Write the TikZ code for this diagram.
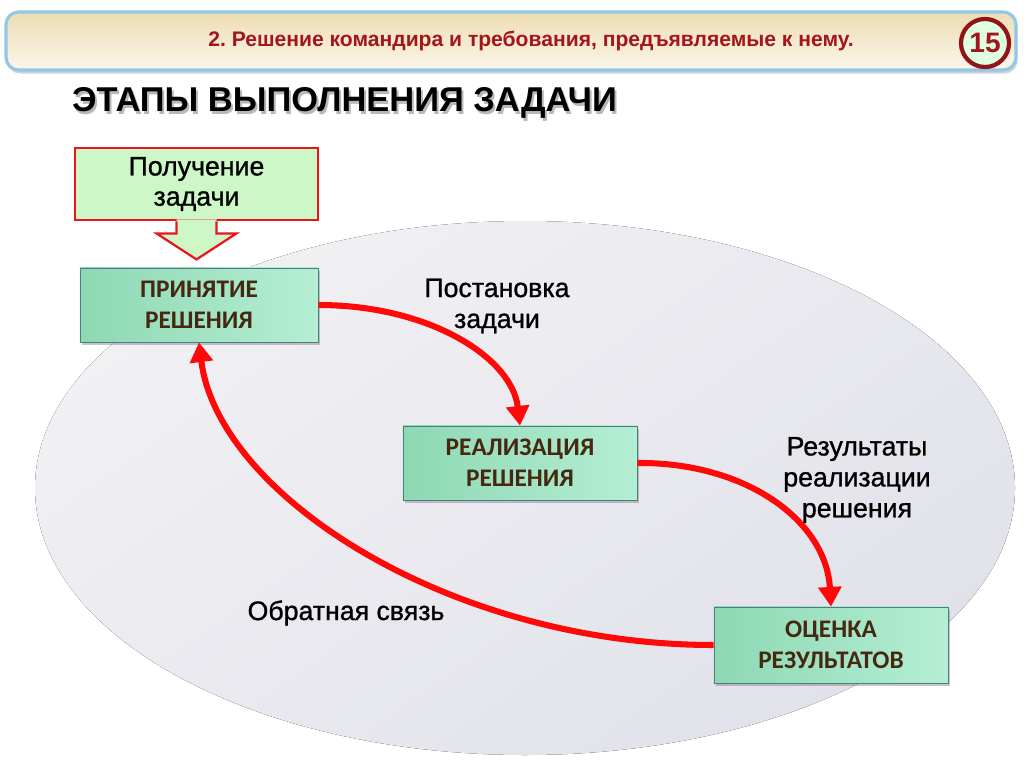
\documentclass[tikz,border=0pt]{standalone}
\usepackage{fontspec}
\setmainfont{Liberation Sans}
\newfontfamily\boxfont{Carlito}
\newfontfamily\labelfont{Liberation Sans}[FakeBold=1]
\usetikzlibrary{arrows.meta,shadows}
\definecolor{hdrred}{HTML}{A3161B}
\definecolor{hdrblue}{HTML}{8FC8E8}
\definecolor{hdrtop}{HTML}{EEDDB4}
\definecolor{hdrbot}{HTML}{FBF6EA}
\definecolor{boxtext}{HTML}{45280F}
\definecolor{boxleft}{HTML}{8ED8B4}
\definecolor{boxright}{HTML}{B4EED4}
\definecolor{flowred}{HTML}{FF0808}
\definecolor{taskgreen}{HTML}{CDF7C6}
\definecolor{taskred}{HTML}{E8161B}
\definecolor{ovallight}{HTML}{F1F1F4}
\definecolor{ovaldark}{HTML}{E1E1EA}
\frenchspacing

\begin{document}
\begin{tikzpicture}[x=0.025cm,y=-0.025cm,
  stage/.style={draw=gray!60!teal,line width=0.5pt,left color=boxleft,right color=boxright,
    drop shadow={opacity=0.45,shadow xshift=1.5pt,shadow yshift=-2pt},
    minimum height=1.85cm,align=center,text=boxtext,font=\boxfont\bfseries\fontsize{18}{22}\selectfont},
  flow/.style={draw=flowred,line width=4.3pt,-{Triangle[length=14pt,width=16pt]}},
  lbl/.style={align=center,font=\labelfont\fontsize{19}{22}\selectfont}]
  \useasboundingbox (0,0) rectangle (1024,767);
  % header
  \draw[draw=hdrblue,line width=2.2pt,rounded corners=9pt,top color=hdrtop,bottom color=hdrbot,
    drop shadow={opacity=0.35,shadow xshift=1pt,shadow yshift=-2.5pt}] (6,12) rectangle (1016,70);
  \node[text=hdrred,font=\bfseries\fontsize{15}{18}\selectfont] (hdrtext) at (531,41) {2. Решение командира и требования, предъявляемые к нему.};
  \node[circle,draw=hdrred!90!black,line width=3pt,fill=green!12,minimum size=1.2cm,inner sep=0pt,text=hdrred,
    font=\bfseries\fontsize{20}{24}\selectfont] (pageno) at (985,43) {15};
  % title
  \node[text=black!28,font=\bfseries\fontsize{24.5}{28}\selectfont] (titleshade) at (346.5,105.5) {ЭТАПЫ ВЫПОЛНЕНИЯ ЗАДАЧИ};
  \node[font=\bfseries\fontsize{24.5}{28}\selectfont] (title) at (344.5,103) {ЭТАПЫ ВЫПОЛНЕНИЯ ЗАДАЧИ};
  % oval
  \fill[top color=ovallight,bottom color=ovaldark,shading angle=35] (525,488) ellipse [x radius=490,y radius=267];
  % stages
  \node[draw=taskred,line width=2pt,fill=taskgreen,minimum width=6.075cm,minimum height=1.8cm,align=center,
    font=\labelfont\fontsize{19}{21.5}\selectfont] (task) at (196.5,184) {Получение\\задачи};
  \fill[taskgreen] (task.south) ++(-20,-2) -- ++(0,14) -- ++(-20,0) -- ++(40,26) -- ++(40,-26) -- ++(-20,0) -- ++(0,-14) -- cycle;
  \draw[taskred,line width=1.6pt,line join=miter] (task.south) ++(-20,0) -- ++(0,12) -- ++(-20,0) -- ++(40,26) -- ++(40,-26) -- ++(-20,0) -- ++(0,-12);
  \node[stage,minimum width=5.95cm] (prin) at (199,305) {ПРИНЯТИЕ\\РЕШЕНИЯ};
  \node[stage,minimum width=5.85cm] (real) at (520,463) {РЕАЛИЗАЦИЯ\\РЕШЕНИЯ};
  \node[stage,minimum width=5.85cm,minimum height=1.9cm] (ocen) at (831,645) {ОЦЕНКА\\РЕЗУЛЬТАТОВ};
  % connectors
  \draw[flow] (prin.east) .. controls (430,305) and (512,358) .. (real.north);
  \draw[flow] (real.east) .. controls (745,462) and (826,520) .. (ocen.north);
  \draw[flow] (ocen.west) .. controls (450,645) and (218,495) .. (prin.south);
  \node[lbl] (postan) at (497,306) {Постановка\\задачи};
  \node[lbl] (result) at (857,480) {Результаты\\реализации\\решения};
  \node[lbl] (obrat) at (346,613) {Обратная связь};
\end{tikzpicture}
\end{document}
